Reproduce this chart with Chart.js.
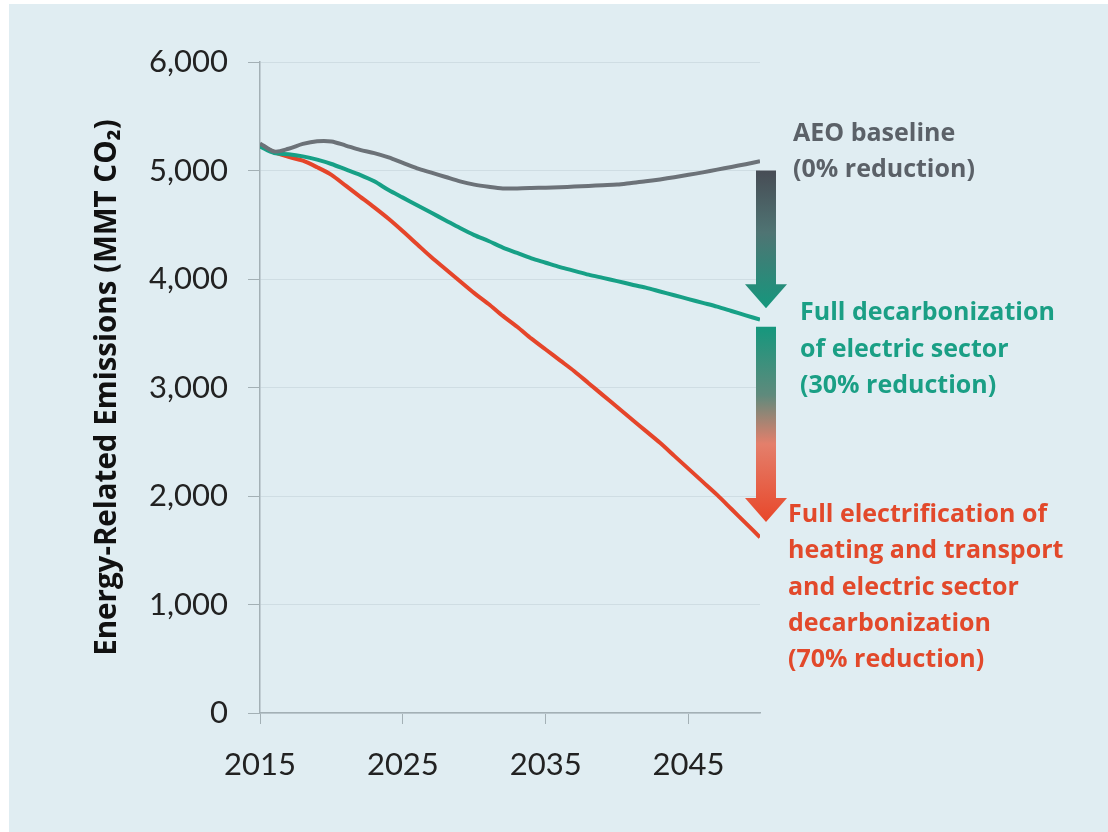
<!DOCTYPE html>
<html>
<head>
<meta charset="utf-8">
<script src="https://cdn.jsdelivr.net/npm/chart.js@4/dist/chart.umd.min.js"></script>
<style>
  body { margin: 0; background: #fff; }
  canvas { display: block; }
</style>
</head>
<body>
<canvas id="chart" width="1108" height="832"></canvas>
<script>
// emissions in MMT CO2
const years = [2015, 2016, 2017, 2018, 2019, 2020, 2021, 2022, 2023, 2024,
  2025, 2026, 2027, 2028, 2029, 2030, 2031, 2032, 2033, 2034,
  2035, 2036, 2037, 2038, 2039, 2040, 2041, 2042, 2043, 2044,
  2045, 2046, 2047, 2048, 2049, 2050]

const baseline = [5250, 5175, 5200, 5245, 5270, 5268, 5230, 5190, 5160, 5120,
  5070, 5020, 4980, 4940, 4900, 4870, 4850, 4835, 4835, 4838,
  4842, 4846, 4852, 4858, 4864, 4870, 4885, 4900, 4918, 4938,
  4960, 4983, 5008, 5033, 5058, 5085]

const decarb = [5220, 5160, 5150, 5130, 5100, 5060, 5010, 4960, 4900, 4820,
  4750, 4680, 4610, 4540, 4470, 4405, 4350, 4290, 4240, 4190,
  4150, 4110, 4075, 4040, 4010, 3980, 3950, 3920, 3885, 3850,
  3815, 3780, 3745, 3705, 3665, 3625]

const electrify = [5230, 5170, 5125, 5090, 5030, 4960, 4860, 4760, 4660, 4555,
  4440, 4320, 4200, 4090, 3980, 3870, 3770, 3660, 3560, 3450,
  3350, 3250, 3150, 3040, 2930, 2820, 2710, 2600, 2490, 2370,
  2250, 2130, 2010, 1880, 1750, 1620]

const xTicks = [2015, 2025, 2035, 2045]
const yTitle = 'Energy-Related Emissions (MMT CO\u2082)'

// gradient arrows between scenarios (value range)
const arrowFrom = [5000, 3560]
const arrowTo = [3730, 1760]

const labelLines = [
  ['AEO baseline', '(0% reduction)'],
  ['Full decarbonization', 'of electric sector', '(30% reduction)'],
  ['Full electrification of', 'heating and transport', 'and electric sector', 'decarbonization', '(70% reduction)']
]
const labelTop = [5340, 3685, 1825]
const labelColors = ['#5b6168', '#1a9f85', '#e2492b']

const points = arr => years.map((yr, i) => ({ x: yr, y: arr[i] }))

const background = {
  id: 'background',
  beforeDraw(chart) {
    const ctx = chart.ctx
    ctx.save()
    ctx.fillStyle = '#ffffff'
    ctx.fillRect(0, 0, chart.width, chart.height)
    ctx.fillStyle = '#e0edf2'
    ctx.fillRect(9, 4, chart.width - 9, chart.height - 4)
    ctx.restore()
  }
}

const arrows = {
  id: 'arrows',
  afterDatasetsDraw(chart) {
    const ctx = chart.ctx
    const x = chart.scales.x.getPixelForValue(2050) + 6
    const y = chart.scales.y
    const stops = [
      [[0, '#474c55'], [0.45, '#4f7473'], [1, '#15977d']],
      [[0, '#15977d'], [0.35, '#5f8a7c'], [0.6, '#e47f6b'], [1, '#e8472a']]
    ]
    arrowFrom.forEach((v, i) => {
      const top = y.getPixelForValue(v)
      const tip = y.getPixelForValue(arrowTo[i])
      const head = tip - 24
      const g = ctx.createLinearGradient(0, top, 0, tip)
      stops[i].forEach(s => g.addColorStop(s[0], s[1]))
      ctx.save()
      ctx.fillStyle = g
      ctx.beginPath()
      ctx.moveTo(x - 10, top)
      ctx.lineTo(x + 10, top)
      ctx.lineTo(x + 10, head)
      ctx.lineTo(x + 21, head)
      ctx.lineTo(x, tip)
      ctx.lineTo(x - 21, head)
      ctx.lineTo(x - 10, head)
      ctx.closePath()
      ctx.fill()
      ctx.restore()
    })
  },
  afterDraw(chart) {
    const ctx = chart.ctx
    const right = chart.chartArea.right
    const y = chart.scales.y
    const lefts = [33, 40, 28]
    ctx.save()
    ctx.font = 'bold 25px "Open Sans"'
    ctx.textBaseline = 'middle'
    labelLines.forEach((lines, i) => {
      ctx.fillStyle = labelColors[i]
      const y0 = y.getPixelForValue(labelTop[i])
      lines.forEach((t, j) => ctx.fillText(t, right + lefts[i], y0 + j * 36.3))
    })
    ctx.restore()
  }
}

new Chart(document.getElementById('chart'), {
  type: 'line',
  data: {
    datasets: [
      { label: 'AEO baseline', data: points(baseline), borderColor: '#6c7278' },
      { label: 'Full decarbonization of electric sector', data: points(decarb), borderColor: '#17a086' },
      { label: 'Full electrification', data: points(electrify), borderColor: '#e5452a' }
    ]
  },
  options: {
    responsive: false,
    animation: false,
    layout: { padding: { left: 0, right: 348, top: 62, bottom: 0 } },
    elements: {
      line: { borderWidth: 4, tension: 0.3, fill: false },
      point: { radius: 0 }
    },
    plugins: {
      legend: { display: false },
      tooltip: { enabled: false }
    },
    scales: {
      x: {
        type: 'linear',
        min: 2015,
        max: 2050,
        afterBuildTicks: s => { s.ticks = xTicks.map(v => ({ value: v })) },
        afterFit: s => { s.height = 119 },
        grid: { drawOnChartArea: false, tickLength: 11, tickColor: '#a3b0b5' },
        border: { color: '#a3b0b5', width: 1.5 },
        ticks: {
          color: '#222',
          font: { family: 'Lato', size: 31 },
          padding: 22,
          maxRotation: 0,
          callback: v => String(v)
        }
      },
      y: {
        min: 0,
        max: 6000,
        afterFit: s => { s.width = 260 },
        grid: { color: '#cfdde3', tickLength: 12, tickColor: '#a3b0b5' },
        border: { color: '#a3b0b5', width: 1.5 },
        ticks: {
          stepSize: 1000,
          color: '#222',
          font: { family: 'Lato', size: 31 },
          padding: 20,
          callback: v => v.toLocaleString('en-US')
        },
        title: {
          display: true,
          text: yTitle,
          color: '#111',
          font: { family: 'Open Sans', size: 29.5, weight: 'bold' },
          padding: { top: 90, bottom: 0 }
        }
      }
    }
  },
  plugins: [background, arrows]
})
</script>
</body>
</html>
